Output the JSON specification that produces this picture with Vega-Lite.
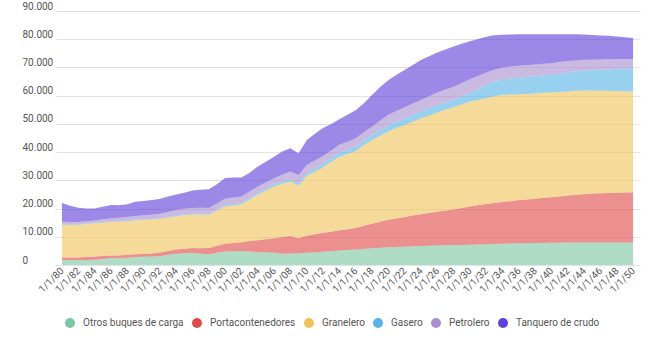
{
  "$schema": "https://vega.github.io/schema/vega-lite/v6.json",
  "width": 585,
  "height": 254,
  "autosize": "none",
  "padding": {"left": 55, "top": 11, "right": 18, "bottom": 86},
  "config": {
    "locale": {"number": {"decimal": ",", "thousands": ".", "grouping": [3], "currency": ["", " €"]}},
    "view": {"stroke": null},
    "font": "Roboto",
    "axis": {"labelFont": "Roboto", "labelColor": "#555555", "labelFontSize": 10}
  },
  "data": {
    "values": [
      {"fecha":"1/1/80","Otros buques de carga":1800,"Portacontenedores":900,"Granelero":11600,"Gasero":200,"Petrolero":800,"Tanquero de crudo":6700},
      {"fecha":"1/1/81","Otros buques de carga":1800,"Portacontenedores":900,"Granelero":11600,"Gasero":200,"Petrolero":700,"Tanquero de crudo":5800},
      {"fecha":"1/1/82","Otros buques de carga":1800,"Portacontenedores":900,"Granelero":11600,"Gasero":200,"Petrolero":700,"Tanquero de crudo":5100},
      {"fecha":"1/1/83","Otros buques de carga":1800,"Portacontenedores":1000,"Granelero":11700,"Gasero":200,"Petrolero":800,"Tanquero de crudo":4500},
      {"fecha":"1/1/84","Otros buques de carga":1900,"Portacontenedores":1100,"Granelero":11800,"Gasero":200,"Petrolero":800,"Tanquero de crudo":4200},
      {"fecha":"1/1/85","Otros buques de carga":2100,"Portacontenedores":1100,"Granelero":11800,"Gasero":200,"Petrolero":1000,"Tanquero de crudo":4400},
      {"fecha":"1/1/86","Otros buques de carga":2400,"Portacontenedores":1000,"Granelero":11800,"Gasero":200,"Petrolero":1100,"Tanquero de crudo":4800},
      {"fecha":"1/1/87","Otros buques de carga":2500,"Portacontenedores":900,"Granelero":11900,"Gasero":200,"Petrolero":1200,"Tanquero de crudo":4500},
      {"fecha":"1/1/88","Otros buques de carga":2600,"Portacontenedores":1000,"Granelero":11900,"Gasero":200,"Petrolero":1300,"Tanquero de crudo":4500},
      {"fecha":"1/1/89","Otros buques de carga":2800,"Portacontenedores":1000,"Granelero":12000,"Gasero":200,"Petrolero":1400,"Tanquero de crudo":5000},
      {"fecha":"1/1/90","Otros buques de carga":2900,"Portacontenedores":1000,"Granelero":12100,"Gasero":200,"Petrolero":1400,"Tanquero de crudo":5100},
      {"fecha":"1/1/91","Otros buques de carga":3000,"Portacontenedores":1100,"Granelero":12000,"Gasero":200,"Petrolero":1500,"Tanquero de crudo":5200},
      {"fecha":"1/1/92","Otros buques de carga":3100,"Portacontenedores":1300,"Granelero":11900,"Gasero":200,"Petrolero":1700,"Tanquero de crudo":5200},
      {"fecha":"1/1/93","Otros buques de carga":3600,"Portacontenedores":1400,"Granelero":11800,"Gasero":200,"Petrolero":1800,"Tanquero de crudo":5500},
      {"fecha":"1/1/94","Otros buques de carga":4000,"Portacontenedores":1500,"Granelero":11800,"Gasero":300,"Petrolero":1900,"Tanquero de crudo":5500},
      {"fecha":"1/1/95","Otros buques de carga":4200,"Portacontenedores":1600,"Granelero":11800,"Gasero":300,"Petrolero":2000,"Tanquero de crudo":5700},
      {"fecha":"1/1/96","Otros buques de carga":4300,"Portacontenedores":1700,"Granelero":11900,"Gasero":300,"Petrolero":2000,"Tanquero de crudo":6200},
      {"fecha":"1/1/97","Otros buques de carga":4000,"Portacontenedores":1900,"Granelero":12000,"Gasero":300,"Petrolero":2100,"Tanquero de crudo":6400},
      {"fecha":"1/1/98","Otros buques de carga":3800,"Portacontenedores":2200,"Granelero":11800,"Gasero":300,"Petrolero":2100,"Tanquero de crudo":6600},
      {"fecha":"1/1/99","Otros buques de carga":4300,"Portacontenedores":2500,"Granelero":12500,"Gasero":300,"Petrolero":2200,"Tanquero de crudo":6800},
      {"fecha":"1/1/00","Otros buques de carga":4800,"Portacontenedores":2700,"Granelero":13300,"Gasero":500,"Petrolero":2200,"Tanquero de crudo":7300},
      {"fecha":"1/1/01","Otros buques de carga":4900,"Portacontenedores":2900,"Granelero":13300,"Gasero":500,"Petrolero":2300,"Tanquero de crudo":7100},
      {"fecha":"1/1/02","Otros buques de carga":5000,"Portacontenedores":3100,"Granelero":13400,"Gasero":500,"Petrolero":2300,"Tanquero de crudo":6700},
      {"fecha":"1/1/03","Otros buques de carga":4800,"Portacontenedores":3700,"Granelero":14700,"Gasero":600,"Petrolero":2200,"Tanquero de crudo":6700},
      {"fecha":"1/1/04","Otros buques de carga":4500,"Portacontenedores":4300,"Granelero":16200,"Gasero":600,"Petrolero":2200,"Tanquero de crudo":7100},
      {"fecha":"1/1/05","Otros buques de carga":4400,"Portacontenedores":4700,"Granelero":17300,"Gasero":700,"Petrolero":2200,"Tanquero de crudo":7300},
      {"fecha":"1/1/06","Otros buques de carga":4300,"Portacontenedores":5200,"Granelero":18300,"Gasero":700,"Petrolero":2200,"Tanquero de crudo":7700},
      {"fecha":"1/1/07","Otros buques de carga":4000,"Portacontenedores":5900,"Granelero":18900,"Gasero":800,"Petrolero":2400,"Tanquero de crudo":8200},
      {"fecha":"1/1/08","Otros buques de carga":4100,"Portacontenedores":6200,"Granelero":19300,"Gasero":800,"Petrolero":2700,"Tanquero de crudo":8300},
      {"fecha":"1/1/09","Otros buques de carga":4100,"Portacontenedores":5400,"Granelero":18700,"Gasero":800,"Petrolero":2800,"Tanquero de crudo":7800},
      {"fecha":"1/1/10","Otros buques de carga":4300,"Portacontenedores":6100,"Granelero":21100,"Gasero":1000,"Petrolero":2900,"Tanquero de crudo":8800},
      {"fecha":"1/1/11","Otros buques de carga":4400,"Portacontenedores":6500,"Granelero":22100,"Gasero":1100,"Petrolero":2900,"Tanquero de crudo":9500},
      {"fecha":"1/1/12","Otros buques de carga":4700,"Portacontenedores":6700,"Granelero":23200,"Gasero":1200,"Petrolero":2800,"Tanquero de crudo":9900},
      {"fecha":"1/1/13","Otros buques de carga":4900,"Portacontenedores":6900,"Granelero":24700,"Gasero":1300,"Petrolero":2800,"Tanquero de crudo":9400},
      {"fecha":"1/1/14","Otros buques de carga":5100,"Portacontenedores":7200,"Granelero":26100,"Gasero":1400,"Petrolero":2800,"Tanquero de crudo":9000},
      {"fecha":"1/1/15","Otros buques de carga":5300,"Portacontenedores":7400,"Granelero":26600,"Gasero":1500,"Petrolero":2900,"Tanquero de crudo":9500},
      {"fecha":"1/1/16","Otros buques de carga":5500,"Portacontenedores":7600,"Granelero":27200,"Gasero":1600,"Petrolero":3000,"Tanquero de crudo":9900},
      {"fecha":"1/1/17","Otros buques de carga":5700,"Portacontenedores":8200,"Granelero":28500,"Gasero":1600,"Petrolero":3000,"Tanquero de crudo":10300},
      {"fecha":"1/1/18","Otros buques de carga":5900,"Portacontenedores":8700,"Granelero":29700,"Gasero":1800,"Petrolero":2900,"Tanquero de crudo":11200},
      {"fecha":"1/1/19","Otros buques de carga":6100,"Portacontenedores":9200,"Granelero":30500,"Gasero":1900,"Petrolero":3400,"Tanquero de crudo":12000},
      {"fecha":"1/1/20","Otros buques de carga":6300,"Portacontenedores":9700,"Granelero":31300,"Gasero":2000,"Petrolero":3900,"Tanquero de crudo":12300},
      {"fecha":"1/1/21","Otros buques de carga":6400,"Portacontenedores":10100,"Granelero":32000,"Gasero":2200,"Petrolero":3900,"Tanquero de crudo":12800},
      {"fecha":"1/1/22","Otros buques de carga":6500,"Portacontenedores":10500,"Granelero":32600,"Gasero":2400,"Petrolero":3900,"Tanquero de crudo":13200},
      {"fecha":"1/1/23","Otros buques de carga":6600,"Portacontenedores":10900,"Granelero":33300,"Gasero":2400,"Petrolero":4000,"Tanquero de crudo":13700},
      {"fecha":"1/1/24","Otros buques de carga":6700,"Portacontenedores":11300,"Granelero":34000,"Gasero":2400,"Petrolero":4100,"Tanquero de crudo":14100},
      {"fecha":"1/1/25","Otros buques de carga":6800,"Portacontenedores":11600,"Granelero":34600,"Gasero":2500,"Petrolero":4300,"Tanquero de crudo":14200},
      {"fecha":"1/1/26","Otros buques de carga":6900,"Portacontenedores":12000,"Granelero":35100,"Gasero":2700,"Petrolero":4400,"Tanquero de crudo":14200},
      {"fecha":"1/1/27","Otros buques de carga":7000,"Portacontenedores":12300,"Granelero":35700,"Gasero":2600,"Petrolero":4600,"Tanquero de crudo":14200},
      {"fecha":"1/1/28","Otros buques de carga":7100,"Portacontenedores":12600,"Granelero":36200,"Gasero":2600,"Petrolero":4700,"Tanquero de crudo":14200},
      {"fecha":"1/1/29","Otros buques de carga":7100,"Portacontenedores":13100,"Granelero":36700,"Gasero":2800,"Petrolero":4800,"Tanquero de crudo":13900},
      {"fecha":"1/1/30","Otros buques de carga":7200,"Portacontenedores":13500,"Granelero":37200,"Gasero":3000,"Petrolero":4900,"Tanquero de crudo":13500},
      {"fecha":"1/1/31","Otros buques de carga":7300,"Portacontenedores":13900,"Granelero":37300,"Gasero":3800,"Petrolero":4700,"Tanquero de crudo":13100},
      {"fecha":"1/1/32","Otros buques de carga":7300,"Portacontenedores":14300,"Granelero":37500,"Gasero":4700,"Petrolero":4400,"Tanquero de crudo":12700},
      {"fecha":"1/1/33","Otros buques de carga":7400,"Portacontenedores":14600,"Granelero":37800,"Gasero":5100,"Petrolero":4300,"Tanquero de crudo":12200},
      {"fecha":"1/1/34","Otros buques de carga":7500,"Portacontenedores":14800,"Granelero":38000,"Gasero":5500,"Petrolero":4200,"Tanquero de crudo":11600},
      {"fecha":"1/1/35","Otros buques de carga":7600,"Portacontenedores":15000,"Granelero":37800,"Gasero":5700,"Petrolero":4200,"Tanquero de crudo":11400},
      {"fecha":"1/1/36","Otros buques de carga":7700,"Portacontenedores":15300,"Granelero":37500,"Gasero":5900,"Petrolero":4200,"Tanquero de crudo":11200},
      {"fecha":"1/1/37","Otros buques de carga":7700,"Portacontenedores":15500,"Granelero":37400,"Gasero":6000,"Petrolero":4200,"Tanquero de crudo":11000},
      {"fecha":"1/1/38","Otros buques de carga":7800,"Portacontenedores":15700,"Granelero":37300,"Gasero":6100,"Petrolero":4100,"Tanquero de crudo":10800},
      {"fecha":"1/1/39","Otros buques de carga":7800,"Portacontenedores":16000,"Granelero":37200,"Gasero":6200,"Petrolero":4100,"Tanquero de crudo":10500},
      {"fecha":"1/1/40","Otros buques de carga":7900,"Portacontenedores":16100,"Granelero":37100,"Gasero":6300,"Petrolero":4100,"Tanquero de crudo":10300},
      {"fecha":"1/1/41","Otros buques de carga":7900,"Portacontenedores":16400,"Granelero":37000,"Gasero":6500,"Petrolero":4100,"Tanquero de crudo":9900},
      {"fecha":"1/1/42","Otros buques de carga":8000,"Portacontenedores":16600,"Granelero":36900,"Gasero":6800,"Petrolero":4000,"Tanquero de crudo":9500},
      {"fecha":"1/1/43","Otros buques de carga":8000,"Portacontenedores":16900,"Granelero":36800,"Gasero":6900,"Petrolero":3900,"Tanquero de crudo":9300},
      {"fecha":"1/1/44","Otros buques de carga":8000,"Portacontenedores":17100,"Granelero":36700,"Gasero":7100,"Petrolero":3800,"Tanquero de crudo":9000},
      {"fecha":"1/1/45","Otros buques de carga":8000,"Portacontenedores":17300,"Granelero":36500,"Gasero":7200,"Petrolero":3700,"Tanquero de crudo":8800},
      {"fecha":"1/1/46","Otros buques de carga":8000,"Portacontenedores":17400,"Granelero":36300,"Gasero":7500,"Petrolero":3600,"Tanquero de crudo":8500},
      {"fecha":"1/1/47","Otros buques de carga":8000,"Portacontenedores":17500,"Granelero":36200,"Gasero":7600,"Petrolero":3600,"Tanquero de crudo":8300},
      {"fecha":"1/1/48","Otros buques de carga":8000,"Portacontenedores":17600,"Granelero":36000,"Gasero":7900,"Petrolero":3500,"Tanquero de crudo":8000},
      {"fecha":"1/1/49","Otros buques de carga":8000,"Portacontenedores":17700,"Granelero":35900,"Gasero":8000,"Petrolero":3400,"Tanquero de crudo":7700},
      {"fecha":"1/1/50","Otros buques de carga":8000,"Portacontenedores":17800,"Granelero":35700,"Gasero":8200,"Petrolero":3300,"Tanquero de crudo":7400}
    ]
  },
  "transform": [
    {"fold": ["Otros buques de carga", "Portacontenedores", "Granelero", "Gasero", "Petrolero", "Tanquero de crudo"], "as": ["tipo", "valor"]},
    {"calculate": "indexof(['Otros buques de carga', 'Portacontenedores', 'Granelero', 'Gasero', 'Petrolero', 'Tanquero de crudo'], datum.tipo)", "as": "orden"}
  ],
  "mark": {"type": "area", "opacity": 0.62, "interpolate": "linear"},
  "encoding": {
    "x": {
      "field": "fecha", "type": "ordinal", "sort": null,
      "scale": {"type": "point", "padding": 0.85},
      "axis": {
        "title": null, "labelAngle": -45, "labelAlign": "right", "labelBaseline": "middle",
        "labelPadding": 4, "ticks": false, "domain": false, "grid": false, "labelOverlap": false,
        "labelExpr": "indexof(['1/1/81','1/1/83','1/1/85','1/1/87','1/1/89','1/1/91','1/1/93','1/1/95','1/1/97','1/1/99','1/1/01','1/1/03','1/1/05','1/1/07','1/1/09','1/1/11','1/1/13','1/1/15','1/1/17','1/1/19','1/1/21','1/1/23','1/1/25','1/1/27','1/1/29','1/1/31','1/1/33','1/1/35','1/1/37','1/1/39','1/1/41','1/1/43','1/1/45','1/1/47','1/1/49'], datum.value) >= 0 ? '' : datum.value"
      }
    },
    "y": {
      "field": "valor", "type": "quantitative", "stack": "zero",
      "scale": {"domain": [0, 90000], "nice": false},
      "axis": {
        "title": null, "values": [0,10000,20000,30000,40000,50000,60000,70000,80000,90000],
        "format": ",d", "domain": false, "ticks": false, "labelOverlap": false,
        "gridColor": "#e3e3e3", "labelAlign": "left", "labelPadding": 33, "labelOffset": -5
      }
    },
    "order": {"field": "orden", "type": "quantitative", "sort": "ascending"},
    "color": {
      "field": "tipo", "type": "nominal",
      "sort": ["Otros buques de carga", "Portacontenedores", "Granelero", "Gasero", "Petrolero", "Tanquero de crudo"],
      "scale": {
        "domain": ["Otros buques de carga", "Portacontenedores", "Granelero", "Gasero", "Petrolero", "Tanquero de crudo"],
        "range": ["#7cc6a0", "#df4a4a", "#f0c35a", "#58b3e6", "#a98fd0", "#5f41d8"]
      },
      "legend": {
        "title": null, "orient": "none", "legendX": 10, "legendY": 307, "direction": "horizontal",
        "columns": 6, "symbolType": "circle", "symbolSize": 100, "symbolOpacity": 1, "symbolStrokeWidth": 0,
        "labelFont": "Roboto", "labelFontSize": 10, "labelColor": "#555555", "labelOffset": 8, "columnPadding": 8
      }
    }
  }
}
